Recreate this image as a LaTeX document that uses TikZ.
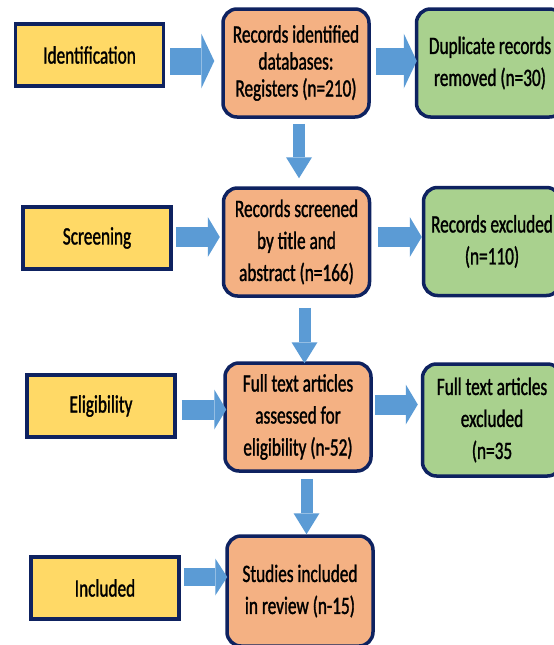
\documentclass[tikz,border=0pt]{standalone}
\usepackage{fontspec}
\setmainfont[FakeStretch=0.69, FakeBold=1.2]{Carlito}
\usetikzlibrary{arrows.meta}

\definecolor{stageyellow}{HTML}{FFD966}
\definecolor{recorange}{HTML}{F4B183}
\definecolor{exclgreen}{HTML}{A9D18E}
\definecolor{flowblue}{HTML}{5B9BD5}
\definecolor{navy}{HTML}{0E2260}

\begin{document}
\begin{tikzpicture}[x=1pt, y=-1pt,
	stage/.style={draw=navy, line width=3.5pt, fill=stageyellow, minimum width=148pt, minimum height=62pt, inner sep=0pt},
	record/.style={draw=navy, line width=3.5pt, fill=recorange, rounded corners=14pt, align=center, minimum width=146pt, minimum height=108pt, inner sep=0pt},
	removed/.style={record, fill=exclgreen},
	flow/.style={draw=flowblue, line width=20pt, -{Triangle[line width=0pt, length=12pt, width=40pt]}},
	flowbig/.style={flow, line width=27pt, -{Triangle[line width=0pt, length=13pt, width=55pt]}},
	flowdown/.style={draw=flowblue, line width=12pt, -{Triangle[line width=0pt, length=21pt, width=26pt]}},
	font=\fontsize{25}{32}\selectfont]
	%\draw[help lines, step=50] (0,0) grid (554,645);
	\useasboundingbox (0,0) rectangle (554,645);

	% stages
	\node (ident) [stage] at (89.5, 55) {Identification};
	\node (screen) [stage] at (97, 238) {Screening};
	\node (elig) [stage] at (101, 406) {Eligibility};
	\node (incl) [stage] at (105, 588) {Included};

	% records
	\node (rec1) [record, font=\fontsize{25}{27}\selectfont] at (296, 63) {Records identified\\databases:\\Registers (n=210)};
	\node (rec2) [record] at (296.5, 242) {Records screened\\by title and\\abstract (n=166)};
	\node (rec3) [record] at (298, 417) {Full text articles\\assessed for\\eligibility (n-52)};
	\node (rec4) [record, minimum height=110pt] at (300, 591) {Studies included\\in review (n-15)};

	% removed (cut off at the right edge)
	\node (dup) [removed, minimum width=147pt] at (490, 63) {Duplicate records\\removed (n=30)};
	\node (excl2) [removed, minimum width=137pt] at (492, 241.5) {Records excluded\\(n=110)};
	\node (excl3) [removed, minimum width=139pt, minimum height=112pt] at (492, 420) {Full text articles\\excluded\\(n=35};

	\draw [flowbig] ([xshift=5pt, yshift=-6pt]ident.east) -- ([xshift=-7pt, yshift=-6pt]ident.east -| rec1.west);
	\draw [flowbig] ([xshift=5pt, yshift=-6pt]rec1.east |- ident.east) -- ([xshift=2pt, yshift=-6pt]ident.east -| dup.west);
	\draw [flow] ([xshift=3pt, yshift=1pt]screen.east) -- ([xshift=-2pt, yshift=1pt]screen.east -| rec2.west);
	\draw [flow] ([xshift=7pt, yshift=1pt]rec2.east |- screen.east) -- ([yshift=1pt]screen.east -| excl2.west);
	\draw [flow] ([xshift=5pt, yshift=-3.5pt]elig.east) -- ([xshift=3pt, yshift=-3.5pt]elig.east -| rec3.west);
	\draw [flow] ([xshift=2pt, yshift=1.5pt]rec3.east |- elig.east) -- ([xshift=-3pt, yshift=1.5pt]elig.east -| excl3.west);
	\draw [flow, line width=18pt, -{Triangle[line width=0pt, length=12pt, width=37pt]}] ([xshift=3pt, yshift=11pt]incl.east) -- ([xshift=2pt, yshift=11pt]incl.east -| rec4.west);

	\draw [flowdown] ([xshift=3pt, yshift=-5pt]rec1.south) -- ([xshift=3pt, yshift=8pt]rec1.south |- rec2.north);
	\draw [flowdown] ([xshift=8pt, yshift=-10pt]rec2.south) -- ([xshift=8pt, yshift=-2pt]rec2.south |- rec3.north);
	\draw [flowdown] ([xshift=8.5pt, yshift=-6pt]rec3.south) -- ([xshift=8.5pt]rec3.south |- rec4.north);
\end{tikzpicture}
\end{document}
